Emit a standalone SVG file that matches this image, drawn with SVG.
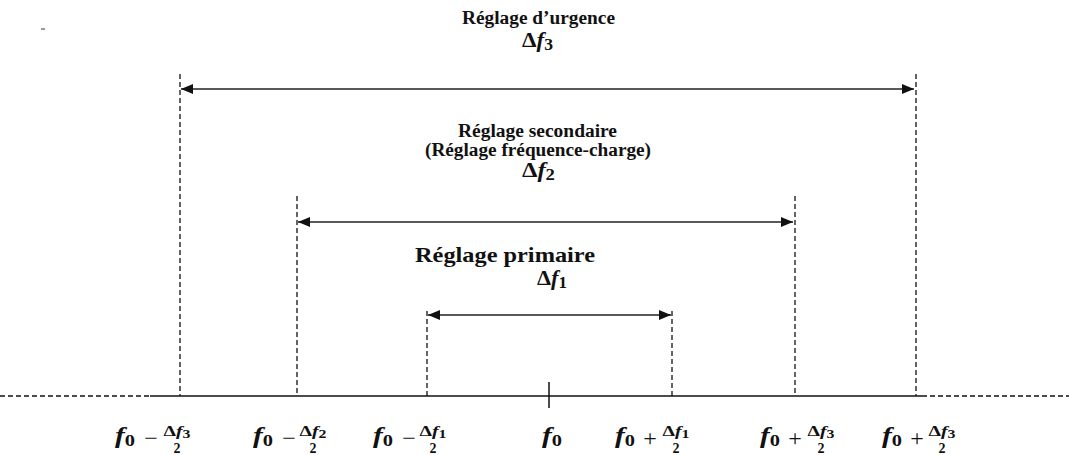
<svg xmlns="http://www.w3.org/2000/svg" width="1069" height="455" viewBox="0 0 1069 455">
<style>
.t{font-family:"Liberation Serif","Times New Roman",serif;font-weight:bold;fill:#111}
.m{font-family:"Liberation Serif","Times New Roman",serif;font-weight:bold;font-style:italic;fill:#111}
.u{font-style:normal}
.op{font-family:"Liberation Serif","Times New Roman",serif;font-size:24px;fill:#111;text-anchor:middle}
.dash{stroke:#111;stroke-width:1.3;stroke-dasharray:5 3;fill:none}
.arr{stroke:#222;stroke-width:1.4;fill:none;marker-start:url(#ah);marker-end:url(#ah)}
</style>
<defs>
<marker id="ah" viewBox="0 0 12 10" refX="12" refY="5" markerWidth="12" markerHeight="10" markerUnits="userSpaceOnUse" orient="auto-start-reverse">
<path d="M0,0 L12,5 L0,10 Z" fill="#111"/>
</marker>
</defs>
<rect width="1069" height="455" fill="#fff"/>
<line x1="41" y1="29" x2="45" y2="29" stroke="#555" stroke-width="1.2"/>

<g id="axis">
<line class="dash" x1="0" y1="396" x2="150" y2="396"/>
<line x1="150" y1="396" x2="922" y2="396" stroke="#111" stroke-width="1.3"/>
<line class="dash" x1="922" y1="396" x2="1069" y2="396"/>
<line x1="549" y1="382" x2="549" y2="408" stroke="#111" stroke-width="1.5"/>
</g>

<g id="connectors">
<line class="dash" x1="180" y1="74" x2="180" y2="396"/>
<line class="dash" x1="916" y1="74" x2="916" y2="396"/>
<line class="dash" x1="297" y1="196" x2="297" y2="396"/>
<line class="dash" x1="795" y1="196" x2="795" y2="396"/>
<line class="dash" x1="427" y1="311" x2="427" y2="396"/>
<line class="dash" x1="672" y1="311" x2="672" y2="396"/>
<line class="arr" x1="181" y1="89" x2="914" y2="89"/>
<line class="arr" x1="298" y1="222" x2="793" y2="222"/>
<line class="arr" x1="428" y1="315" x2="671" y2="315"/>
</g>

<g id="urgence">
<text class="t" x="462" y="24" font-size="18.5" textLength="153" lengthAdjust="spacingAndGlyphs">Réglage d’urgence</text>
<text class="m" x="522" y="47" font-size="21" textLength="31" lengthAdjust="spacingAndGlyphs"><tspan class="u">Δ</tspan>f<tspan class="u" font-size="16" dy="3">3</tspan></text>
</g>

<g id="secondaire">
<text class="t" x="458" y="137" font-size="18" textLength="159" lengthAdjust="spacingAndGlyphs">Réglage secondaire</text>
<text class="t" x="425" y="156" font-size="18" textLength="226" lengthAdjust="spacingAndGlyphs">(Réglage fréquence-charge)</text>
<text class="m" x="522" y="177" font-size="21" textLength="33" lengthAdjust="spacingAndGlyphs"><tspan class="u">Δ</tspan>f<tspan class="u" font-size="16" dy="3">2</tspan></text>
</g>

<g id="primaire">
<text class="t" x="415" y="262" font-size="22" textLength="180" lengthAdjust="spacingAndGlyphs">Réglage primaire</text>
<text class="m" x="537" y="285" font-size="21" textLength="30" lengthAdjust="spacingAndGlyphs"><tspan class="u">Δ</tspan>f<tspan class="u" font-size="16" dy="3">1</tspan></text>
</g>

<g id="labels">
<g id="l1">
<text class="m" x="115" y="443" font-size="23" textLength="20" lengthAdjust="spacingAndGlyphs">f<tspan class="u" font-size="16" dy="3">0</tspan></text>
<text class="op" x="151" y="446">−</text>
<text class="m" x="177" y="436" font-size="15" text-anchor="middle" textLength="27" lengthAdjust="spacingAndGlyphs"><tspan class="u">Δ</tspan>f<tspan class="u" font-size="12" dy="2">3</tspan></text>
<text class="t" x="177" y="453" font-size="14" text-anchor="middle">2</text>
</g>
<g id="l2">
<text class="m" x="253" y="443" font-size="23" textLength="20" lengthAdjust="spacingAndGlyphs">f<tspan class="u" font-size="16" dy="3">0</tspan></text>
<text class="op" x="289" y="446">−</text>
<text class="m" x="313" y="436" font-size="15" text-anchor="middle" textLength="27" lengthAdjust="spacingAndGlyphs"><tspan class="u">Δ</tspan>f<tspan class="u" font-size="12" dy="2">2</tspan></text>
<text class="t" x="313" y="453" font-size="14" text-anchor="middle">2</text>
</g>
<g id="l3">
<text class="m" x="373" y="443" font-size="23" textLength="20" lengthAdjust="spacingAndGlyphs">f<tspan class="u" font-size="16" dy="3">0</tspan></text>
<text class="op" x="409" y="446">−</text>
<text class="m" x="433" y="436" font-size="15" text-anchor="middle" textLength="27" lengthAdjust="spacingAndGlyphs"><tspan class="u">Δ</tspan>f<tspan class="u" font-size="12" dy="2">1</tspan></text>
<text class="t" x="433" y="453" font-size="14" text-anchor="middle">2</text>
</g>
<g id="l4">
<text class="m" x="542" y="443" font-size="23" textLength="20" lengthAdjust="spacingAndGlyphs">f<tspan class="u" font-size="16" dy="3">0</tspan></text>
</g>
<g id="l5">
<text class="m" x="615" y="443" font-size="23" textLength="20" lengthAdjust="spacingAndGlyphs">f<tspan class="u" font-size="16" dy="3">0</tspan></text>
<text class="op" x="650" y="446">+</text>
<text class="m" x="676" y="436" font-size="15" text-anchor="middle" textLength="27" lengthAdjust="spacingAndGlyphs"><tspan class="u">Δ</tspan>f<tspan class="u" font-size="12" dy="2">1</tspan></text>
<text class="t" x="676" y="453" font-size="14" text-anchor="middle">2</text>
</g>
<g id="l6">
<text class="m" x="760" y="443" font-size="23" textLength="20" lengthAdjust="spacingAndGlyphs">f<tspan class="u" font-size="16" dy="3">0</tspan></text>
<text class="op" x="795" y="446">+</text>
<text class="m" x="821" y="436" font-size="15" text-anchor="middle" textLength="27" lengthAdjust="spacingAndGlyphs"><tspan class="u">Δ</tspan>f<tspan class="u" font-size="12" dy="2">3</tspan></text>
<text class="t" x="821" y="453" font-size="14" text-anchor="middle">2</text>
</g>
<g id="l7">
<text class="m" x="882" y="443" font-size="23" textLength="20" lengthAdjust="spacingAndGlyphs">f<tspan class="u" font-size="16" dy="3">0</tspan></text>
<text class="op" x="917" y="446">+</text>
<text class="m" x="942" y="436" font-size="15" text-anchor="middle" textLength="27" lengthAdjust="spacingAndGlyphs"><tspan class="u">Δ</tspan>f<tspan class="u" font-size="12" dy="2">3</tspan></text>
<text class="t" x="942" y="453" font-size="14" text-anchor="middle">2</text>
</g>
</g>
</svg>
